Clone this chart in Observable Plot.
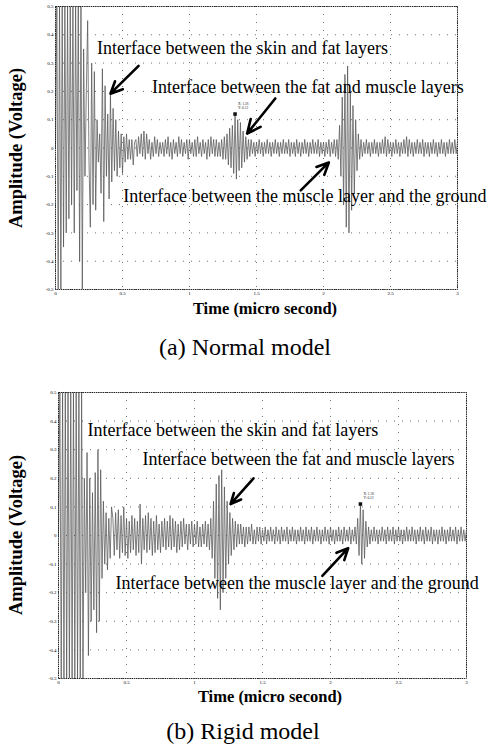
<!DOCTYPE html>
<html><head><meta charset="utf-8">
<script src="https://cdn.jsdelivr.net/npm/d3@7"></script>
<script src="https://cdn.jsdelivr.net/npm/@observablehq/plot@0.6"></script>
<style>
html,body{margin:0;padding:0;background:#fff;}
#wrap{position:relative;width:492px;height:749px;overflow:hidden;font-family:"Liberation Serif","Times New Roman",serif;color:#000;}
.abs{position:absolute;white-space:nowrap;}
.ylab{font-weight:bold;font-size:18.5px;transform:rotate(-90deg);transform-origin:center center;line-height:20px;}
.xlab{font-weight:bold;font-size:16.5px;line-height:17px;}
.cap{font-size:24px;}
</style>
</head><body>
<div id="wrap">
  <div id="p1" class="abs" style="left:0;top:0"></div>
  <div id="p2" class="abs" style="left:0;top:380px"></div>
  <div class="abs ylab" style="left:-84px;top:138px;width:200px;text-align:center">Amplitude (Voltage)</div>
  <div class="abs xlab" style="left:0;top:300px;width:530px;text-align:center">Time (micro second)</div>
  <div class="abs cap" style="left:0;top:334px;width:490px;text-align:center">(a) Normal model</div>
  <div class="abs ylab" style="left:-84px;top:525px;width:200px;text-align:center">Amplitude (Voltage)</div>
  <div class="abs xlab" style="left:0;top:688px;width:540px;text-align:center">Time (micro second)</div>
  <div class="abs cap" style="left:0;top:718px;width:486px;text-align:center">(b) Rigid model</div>
</div>
<script>
// ---- shared axis data ----
const xTicks = [0, 0.5, 1, 1.5, 2, 2.5, 3];
const yTicks = [-0.5, -0.4, -0.3, -0.2, -0.1, 0, 0.1, 0.2, 0.3, 0.4, 0.5];
const sampleStep = 0.01; // micro-second between samples

// ---- (a) Normal model: amplitude samples (V), one every sampleStep ----
const normalAmp = [
  0, 0.5,-0.5, 0.5,-0.5, 0.5,-0.35, 0.5,-0.3, 0.5,-0.25, 0.5,-0.2, 0.5,-0.3, 0.5,-0.15, 0.5,-0.4, 0.5,
  -0.5, 0.35,-0.1, 0.2, 0.45,-0.05,-0.28, 0.3,-0.2, 0.27,-0.22, 0.1,-0.05, 0.05,-0.16, 0.28,-0.26, 0.22,-0.1, 0.12,
  -0.18, 0.19,-0.12, 0.14,-0.08, 0.1,-0.1, 0.06,-0.07, 0.05,-0.09, 0.04,-0.05, 0.05,-0.04, 0.03,-0.04, 0.03,-0.06, 0.02,
  0.03,-0.03, 0.04,-0.02, 0.05,-0.03, 0.06,-0.04, 0.05,-0.02, 0.03,-0.04, 0.02,-0.03, 0.04,-0.02, 0.03,-0.03, 0.02,-0.02,
  0.02,-0.03, 0.03,-0.02, 0.04,-0.03, 0.02,-0.04, 0.03,-0.02, 0.02,-0.03, 0.04,-0.02, 0.03,-0.03, 0.02,-0.02, 0.03,-0.04,
  0.03,-0.02, 0.02,-0.03, 0.03,-0.03, 0.04,-0.02, 0.02,-0.03, 0.03,-0.02, 0.02,-0.04, 0.03,-0.03, 0.04,-0.02, 0.03,-0.03,
  0.03,-0.03, 0.02,-0.03, 0.03,-0.04, 0.04,-0.04, 0.05,-0.06, 0.07,-0.07, 0.08,-0.09, 0.12,-0.11, 0.1,-0.08, 0.09,-0.07,
  0.06,-0.05, 0.04,-0.04, 0.03,-0.03, 0.03,-0.02, 0.02,-0.03, 0.02,-0.02, 0.03,-0.02, 0.02,-0.03, 0.02,-0.02, 0.03,-0.02,
  0.02,-0.03, 0.02,-0.02, 0.03,-0.02, 0.02,-0.03, 0.02,-0.02, 0.03,-0.02, 0.02,-0.02, 0.03,-0.03, 0.02,-0.02, 0.02,-0.03,
  0.03,-0.02, 0.02,-0.03, 0.02,-0.02, 0.03,-0.02, 0.02,-0.03, 0.02,-0.02, 0.03,-0.02, 0.02,-0.02, 0.03,-0.03, 0.02,-0.02,
  0.02,-0.03, 0.02,-0.02, 0.03,-0.03, 0.02,-0.02, 0.03,-0.03, 0.03,-0.04, 0.08,-0.1, 0.18,-0.2, 0.26,-0.28, 0.29,-0.3,
  0.2,-0.22, 0.15,-0.16, 0.1,-0.08, 0.05,-0.04, 0.03,-0.03, 0.02,-0.02, 0.03,-0.02, 0.02,-0.03, 0.02,-0.02, 0.03,-0.02,
  0.02,-0.03, 0.02,-0.02, 0.03,-0.02, 0.04,-0.03, 0.03,-0.02, 0.02,-0.03, 0.02,-0.02, 0.03,-0.02, 0.02,-0.03, 0.02,-0.02,
  0.03,-0.02, 0.04,-0.03, 0.03,-0.02, 0.02,-0.03, 0.02,-0.02, 0.03,-0.02, 0.02,-0.02, 0.03,-0.03, 0.02,-0.02, 0.02,-0.03,
  0.02,-0.02, 0.03,-0.02, 0.02,-0.03, 0.02,-0.02, 0.03,-0.02, 0.02,-0.03, 0.02,-0.02, 0.03,-0.02, 0.02,-0.02, 0.03,-0.02,
  0.02
];

// ---- (b) Rigid model ----
const rigidAmp = [
  0, 0.5,-0.5, 0.5,-0.5, 0.5,-0.5, 0.5,-0.5, 0.5,-0.5, 0.5,-0.5, 0.5,-0.5, 0.5,-0.5, 0.5,-0.5, 0.2,
  -0.2, 0.29,-0.42, 0.2,-0.3, 0.15,-0.26, 0.22,-0.34, 0.3,-0.3, 0.23,-0.15, 0.12,-0.1, 0.08,-0.12, 0.06,-0.08, 0.1,
  0.06,-0.07, 0.08,-0.05, 0.09,-0.08, 0.07,-0.06, 0.1,-0.07, 0.06,-0.08, 0.05,-0.06, 0.07,-0.05, 0.06,-0.07, 0.05,-0.06,
  0.11,-0.1, 0.06,-0.05, 0.07,-0.06, 0.08,-0.05, 0.06,-0.07, 0.05,-0.06, 0.07,-0.05, 0.04,-0.06, 0.05,-0.04, 0.06,-0.05,
  0.05,-0.04, 0.07,-0.05, 0.06,-0.04, 0.05,-0.06, 0.04,-0.05, 0.05,-0.04, 0.06,-0.03, 0.04,-0.05, 0.04,-0.03, 0.05,-0.04,
  0.04,-0.03, 0.05,-0.04, 0.03,-0.04, 0.04,-0.03, 0.05,-0.04, 0.04,-0.05, 0.06,-0.08, 0.12,-0.15, 0.18,-0.22, 0.21,-0.26,
  0.23,-0.2, 0.17,-0.15, 0.12,-0.1, 0.08,-0.07, 0.06,-0.05, 0.05,-0.04, 0.04,-0.03, 0.04,-0.03, 0.03,-0.04, 0.03,-0.03,
  0.03,-0.02, 0.04,-0.03, 0.02,-0.03, 0.03,-0.02, 0.03,-0.03, 0.02,-0.02, 0.03,-0.03, 0.02,-0.02, 0.03,-0.02, 0.02,-0.03,
  0.03,-0.02, 0.02,-0.03, 0.03,-0.02, 0.02,-0.02, 0.03,-0.03, 0.02,-0.02, 0.03,-0.02, 0.02,-0.03, 0.02,-0.02, 0.03,-0.02,
  0.02,-0.03, 0.03,-0.02, 0.02,-0.02, 0.03,-0.03, 0.02,-0.02, 0.03,-0.02, 0.02,-0.03, 0.02,-0.02, 0.03,-0.02, 0.02,-0.03,
  0.03,-0.02, 0.02,-0.03, 0.02,-0.02, 0.03,-0.02, 0.02,-0.03, 0.03,-0.02, 0.02,-0.02, 0.03,-0.03, 0.02,-0.02, 0.03,-0.03,
  0.06,-0.07, 0.11,-0.1, 0.09,-0.08, 0.05,-0.04, 0.03,-0.03, 0.02,-0.02, 0.03,-0.02, 0.02,-0.03, 0.02,-0.02, 0.03,-0.02,
  0.02,-0.03, 0.03,-0.02, 0.02,-0.02, 0.03,-0.03, 0.02,-0.02, 0.03,-0.02, 0.02,-0.03, 0.02,-0.02, 0.03,-0.02, 0.02,-0.02,
  0.03,-0.02, 0.02,-0.03, 0.02,-0.02, 0.03,-0.02, 0.02,-0.03, 0.03,-0.02, 0.02,-0.02, 0.03,-0.03, 0.02,-0.02, 0.02,-0.03,
  0.02,-0.02, 0.03,-0.02, 0.02,-0.03, 0.02,-0.02, 0.03,-0.02, 0.02,-0.02, 0.03,-0.03, 0.02,-0.02, 0.03,-0.02, 0.02,-0.02,
  0.02
];

// ---- annotations (a) ----
const normalLabelText = ["Interface between the skin and fat layers", "Interface between the fat and muscle layers", "Interface between the muscle layer and the ground"];
const normalLabelT = [0.31, 0.72, 0.505];
const normalLabelV = [0.352, 0.214, -0.171];
const normalArrowT1 = [0.62, 1.64, 1.83];
const normalArrowV1 = [0.29, 0.175, -0.15];
const normalArrowT2 = [0.41, 1.43, 2.04];
const normalArrowV2 = [0.192, 0.051, -0.051];
const normalTipT = [1.34];
const normalTipV = [0.12];

// ---- annotations (b) ----
const rigidLabelText = ["Interface between the skin and fat layers", "Interface between the fat and muscle layers", "Interface between the muscle layer and the ground"];
const rigidLabelT = [0.213, 0.618, 0.419];
const rigidLabelV = [0.368, 0.267, -0.166];
const rigidArrowT1 = [1.434, 1.94];
const rigidArrowV1 = [0.2, -0.141];
const rigidArrowT2 = [1.265, 2.13];
const rigidArrowV2 = [0.11, -0.044];
const rigidTipT = [2.22];
const rigidTipV = [0.11];

function build(amp, lt, lv, ltext, a1t, a1v, a2t, a2v, tipT, tipV, opts) {
  const sig = amp.map((v, i) => ({t: i * sampleStep, v}));
  const labels = ltext.map((s, i) => ({s, t: lt[i], v: lv[i]}));
  const arrows = a1t.map((d, i) => ({x1: d, y1: a1v[i], x2: a2t[i], y2: a2v[i]}));
  const tips = tipT.map((d, i) => ({t: d, v: tipV[i]}));
  return Plot.plot({
    width: 492, height: opts.height,
    marginLeft: opts.ml, marginRight: opts.mr, marginTop: opts.mt, marginBottom: opts.mb,
    style: {fontFamily: "Liberation Serif, serif", background: "transparent", overflow: "visible"},
    x: {domain: [0, 3]},
    y: {domain: [-0.5, 0.5]},
    marks: [
      Plot.gridX(xTicks, {stroke: "#333", strokeOpacity: 0.7, strokeDasharray: "1,7"}),
      Plot.gridY(yTicks, {stroke: "#333", strokeOpacity: 0.7, strokeDasharray: "1,7"}),
      Plot.line(sig, {x: "t", y: "v", stroke: "#555", strokeWidth: 0.75, clip: true}),
      Plot.frame({stroke: "#222", strokeDasharray: "1.5,0.7"}),
      Plot.axisX({ticks: xTicks, tickSize: 0, tickPadding: 2, fontSize: 5, label: null, tickFormat: d => String(d)}),
      Plot.axisY({ticks: yTicks, tickSize: 0, tickPadding: 2, fontSize: 5, label: null, tickFormat: d => String(d)}),
      Plot.dot(tips, {x: "t", y: "v", symbol: "square", r: 2, fill: "#111"}),
      Plot.text(tips, {x: "t", y: "v", text: () => "X: 1.36\nY: 0.12", dx: 3, dy: -8, fontSize: 3.5, textAnchor: "start", fill: "#222"}),
      Plot.arrow(arrows, {x1: "x1", y1: "y1", x2: "x2", y2: "y2", stroke: "#000", strokeWidth: 2.6, headLength: 9, headAngle: 50}),
      Plot.text(labels, {x: "t", y: "v", text: "s", textAnchor: "start", lineAnchor: "middle", fontSize: 18, fill: "#000", fontFamily: "Liberation Serif, serif"})
    ]
  });
}

document.getElementById("p1").append(build(normalAmp, normalLabelT, normalLabelV, normalLabelText,
  normalArrowT1, normalArrowV1, normalArrowT2, normalArrowV2, normalTipT, normalTipV,
  {height: 300, ml: 55, mr: 35, mt: 6, mb: 11}));
document.getElementById("p2").append(build(rigidAmp, rigidLabelT, rigidLabelV, rigidLabelText,
  rigidArrowT1, rigidArrowV1, rigidArrowT2, rigidArrowV2, rigidTipT, rigidTipV,
  {height: 310, ml: 58, mr: 26, mt: 12, mb: 12}));
</script>
</body></html>
